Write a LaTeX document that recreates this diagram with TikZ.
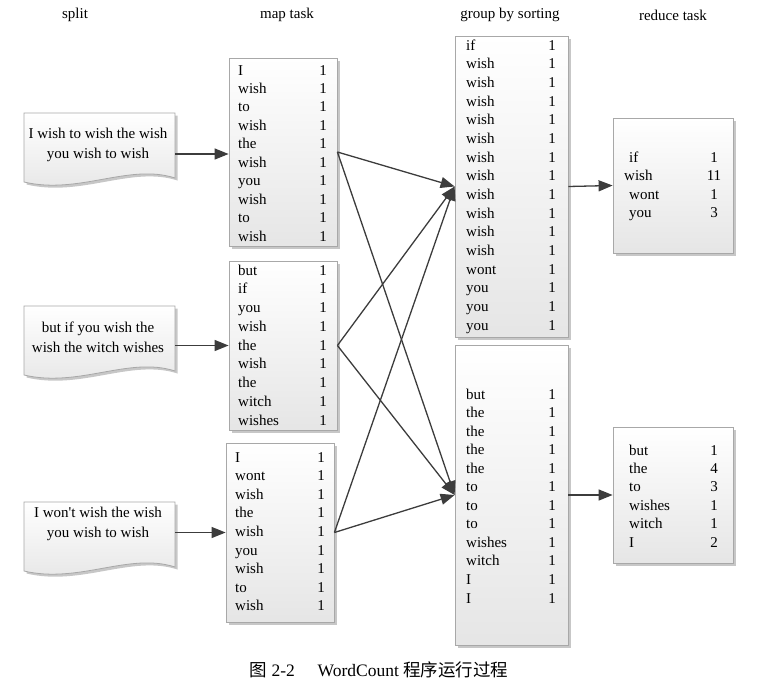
\documentclass[tikz,border=0pt]{standalone}
\usepackage{fontspec}
\setmainfont{Liberation Serif}
\newfontfamily\cjk{Noto Sans CJK SC}
\usetikzlibrary{shadows,arrows.meta,calc}
\definecolor{arrowgray}{HTML}{3C3C3C}
\definecolor{boxline}{HTML}{A8A8A8}
\newcommand\tablerows[6]{%
  \foreach[count=\i from 0] \w/\n in {#6}{%
    \node[cell, anchor=base west] (#1w\i) at (#2,{#4+#5*\i+5}) {\w};
    \node[cell, anchor=base east] (#1n\i) at (#3,{#4+#5*\i+5}) {\n};
  }}
\newcommand\redrows[6]{%
  \foreach[count=\i from 0] \w/\n/\o in {#6}{%
    \node[cell, anchor=base west] (#1w\i) at ({#2+\o},{#4+#5*\i+5}) {\w};
    \node[cell, anchor=base] (#1n\i) at (#3,{#4+#5*\i+5}) {\n};
  }}
\newcommand\docpath[2]{(#1,#2) -- ({#1+151},#2) -- ({#1+151},{#2+65}) .. controls ({#1+105},{#2+50}) and ({#1+55},{#2+82}) .. (#1,{#2+69}) -- cycle}
\begin{document}
\begin{tikzpicture}[x=1pt,y=-1pt,
  cell/.style={inner sep=0pt, font=\fontsize{15}{15}\selectfont},
  head/.style={inner sep=0pt, font=\fontsize{15}{15}\selectfont},
  listbox/.style={draw=boxline, line width=0.8pt, top color=white, bottom color=black!10,
     general shadow={fill=black!22, shadow xshift=2.5pt, shadow yshift=-2.5pt}},
  doctext/.style={inner sep=0pt, align=center, font=\fontsize{15}{20}\selectfont},
  arr/.style={draw=arrowgray, line width=1.3pt, -{Triangle[length=14pt,width=11pt]}}]
\useasboundingbox (0,0) rectangle (770,688);
% headers
\node[head] (h1) at (75,15) {split};
\node[head] (h2) at (287,15) {map task};
\node[head] (h3) at (510,15) {group by sorting};
\node[head] (h4) at (673,15) {reduce task};
% documents
\foreach \x/\y in {24/113, 24/306, 24/502}{
  \fill[black!22] [shift={(2.5,2.5)}] \docpath{\x}{\y};
  \draw[boxline, line width=0.8pt, top color=white, bottom color=black!10] \docpath{\x}{\y};
}
\node[doctext] (d1) at (98,145) {I wish to wish the wish\\you wish to wish};
\node[doctext] (d2) at (98,337) {but if you wish the\\wish the witch wishes};
\node[doctext] (d3) at (98,524) {I won\textquotesingle t wish the wish\\you wish to wish};
% boxes
\node[listbox, minimum width=108pt, minimum height=188pt] (m1) at (283,152) {};
\node[listbox, minimum width=108pt, minimum height=169pt] (m2) at (283,345.5) {};
\node[listbox, minimum width=108pt, minimum height=179pt] (m3) at (280,532.5) {};
\node[listbox, minimum width=113pt, minimum height=301pt] (g1) at (511.5,186.5) {};
\node[listbox, minimum width=113pt, minimum height=300pt] (g2) at (511.5,495) {};
\node[listbox, minimum width=120pt, minimum height=135pt] (r1) at (673,185.5) {};
\node[listbox, minimum width=120pt, minimum height=136pt] (r2) at (673,495) {};
% rows
\tablerows{ma}{238}{327}{70}{18.45}{I/1,wish/1,to/1,wish/1,the/1,wish/1,you/1,wish/1,to/1,wish/1}
\tablerows{mb}{238}{327}{270}{18.75}{but/1,if/1,you/1,wish/1,the/1,wish/1,the/1,witch/1,wishes/1}
\tablerows{mc}{235}{325}{457}{18.6}{I/1,wont/1,wish/1,the/1,wish/1,you/1,wish/1,to/1,wish/1}
\tablerows{ga}{466}{556}{45}{18.67}{if/1,wish/1,wish/1,wish/1,wish/1,wish/1,wish/1,wish/1,wish/1,wish/1,wish/1,wish/1,wont/1,you/1,you/1,you/1}
\tablerows{gb}{466}{556}{394}{18.55}{but/1,the/1,the/1,the/1,the/1,to/1,to/1,to/1,wishes/1,witch/1,I/1,I/1}
\redrows{ra}{624}{714}{157}{18.6}{if/1/5,wish/11/0,wont/1/5,you/3/5}
\redrows{rb}{629}{714}{450}{18.4}{but/1/0,the/4/0,to/3/0,wishes/1/0,witch/1/0,I/2/0}
% arrows
\coordinate (d1o) at (175,154);
\coordinate (d2o) at (175,345.5);
\coordinate (d3o) at (175,532.5);
\draw[arr] (d1o) -- (d1o -| m1.west);
\draw[arr] (d2o) -- (m2.west);
\draw[arr] (d3o) -- (m3.west);
\draw[arr] (m1.east) -- (g1.west);
\draw[arr] (m1.east) -- (g2.west);
\draw[arr] (m2.east) -- (g1.west);
\draw[arr] (m2.east) -- (g2.west);
\draw[arr] (m3.east) -- (g1.west);
\draw[arr] (m3.east) -- (g2.west);
\draw[arr] (g1.east) -- (r1.west);
\draw[arr] (g2.east) -- (r2.west);
% caption
\node[inner sep=0pt, font=\fontsize{17.5}{17.5}\selectfont] (cap) at (379,670) {{\cjk 图} 2-2\hspace{1.3em}WordCount {\cjk 程序运行过程}};
\end{tikzpicture}
\end{document}
